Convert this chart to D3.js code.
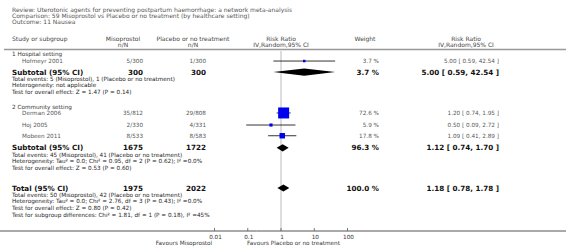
<!DOCTYPE html>
<html>
<head>
<meta charset="utf-8">
<title>Forest plot - Nausea</title>
<style>
    body { margin: 0; background: #fff; }
    svg text { font-family: "DejaVu Sans", sans-serif; fill: #333; }
    .small { font-size: 5.7px; }
    .head { font-size: 6px; fill: #444; }
    .bold { font-size: 7.2px; font-weight: bold; fill: #111; }
</style>
<script src="https://cdn.jsdelivr.net/npm/d3@7"></script>
</head>
<body>
<svg id="chart" width="566" height="248"></svg>
<script>
// ---- data ----
var titleLines = [
    "Review:  Uterotonic agents for preventing postpartum haemorrhage: a network meta-analysis",
    "Comparison:  59 Misoprostol vs Placebo or no treatment (by healthcare setting)",
    "Outcome:  11 Nausea"
];
var studyNames   = ["Hofmeyr 2001", "Derman 2006", "Hoj 2005", "Mobeen 2011"];
var misoEvents   = ["5/300", "35/812", "2/330", "8/533"];
var placEvents   = ["1/300", "29/808", "4/331", "8/583"];
var studyWeight  = [3.7, 72.6, 5.9, 17.8];
var studyRR      = [5.00, 1.20, 0.50, 1.09];
var studyLo      = [0.59, 0.74, 0.09, 0.41];
var studyHi      = [42.54, 1.95, 2.72, 2.89];

var groupNames   = ["1 Hospital setting", "2 Community setting"];
var subMiso      = ["300", "1675"];
var subPlac      = ["300", "1722"];
var subWeight    = [3.7, 96.3];
var subRR        = [5.00, 1.12];
var subLo        = [0.59, 0.74];
var subHi        = [42.54, 1.70];
var subNotes = [
    ["Total events: 5 (Misoprostol), 1 (Placebo or no treatment)",
     "Heterogeneity: not applicable",
     "Test for overall effect: Z = 1.47 (P = 0.14)"],
    ["Total events: 45 (Misoprostol), 41 (Placebo or no treatment)",
     "Heterogeneity: Tau\u00b2 = 0.0; Chi\u00b2 = 0.95, df = 2 (P = 0.62); I\u00b2 =0.0%",
     "Test for overall effect: Z = 0.53 (P = 0.60)"]
];

var totalMiso = "1975", totalPlac = "2022";
var totalWeight = 100.0, totalRR = 1.18, totalLo = 0.78, totalHi = 1.78;
var totalNotes = [
    "Total events: 50 (Misoprostol), 42 (Placebo or no treatment)",
    "Heterogeneity: Tau\u00b2 = 0.0; Chi\u00b2 = 2.76, df = 3 (P = 0.43); I\u00b2 =0.0%",
    "Test for overall effect: Z = 0.80 (P = 0.42)",
    "Test for subgroup differences: Chi\u00b2 = 1.81, df = 1 (P = 0.18), I\u00b2 =45%"
];

var tickValues = [0.01, 0.1, 1, 10, 100];
var favoursLeft = "Favours Misoprostol";
var favoursRight = "Favours Placebo or no treatment";

// ---- layout ----
var svg = d3.select("#chart");
var W = 566;
var col = { label: 12, study: 22, miso: 143, plac: 206, weight: 379, ci: 499, rrMid: 281, wMid: 365, ciMid: 466 };

var x = d3.scaleLog().domain([0.01, 100]).range([214.5, 347.5]);
// line slots -> pixel y (text centre)
var y = d3.scaleLinear().domain([0, 1]).range([54, 60.7]);
var boxSize = d3.scaleSqrt().domain([0, 72.6]).range([0, 11]);

function fmt(v) { return v.toFixed(2); }
function ciText(r, l, h) { return fmt(r) + " [ " + fmt(l) + ", " + fmt(h) + " ]"; }

function txt(cls, xx, yy, s, anchor) {
    return svg.append("text").attr("class", cls)
        .attr("x", xx).attr("y", yy)
        .attr("dominant-baseline", "central")
        .attr("text-anchor", anchor || "start")
        .text(s);
}

// title block
titleLines.forEach(function (t, i) {
    txt("head", col.label, 9.5 + i * 6.2, t).style("fill", "#555");
});

// column header
txt("head", col.label, 38, "Study or subgroup");
txt("head", 123, 38, "Misoprostol", "middle");
txt("head", 123, 44, "n/N", "middle");
txt("head", 193, 38, "Placebo or no treatment", "middle");
txt("head", 193, 44, "n/N", "middle");
txt("head", col.rrMid, 38, "Risk Ratio", "middle");
txt("head", col.rrMid, 44, "IV,Random,95% CI", "middle");
txt("head", col.wMid, 38, "Weight", "middle");
txt("head", col.ciMid, 38, "Risk Ratio", "middle");
txt("head", col.ciMid, 44, "IV,Random,95% CI", "middle");

svg.append("line").attr("x1", 4).attr("x2", W).attr("y1", 49.5).attr("y2", 49.5)
    .attr("stroke", "#999").attr("stroke-width", 1.6);

// null line
svg.append("line").attr("x1", x(1)).attr("x2", x(1)).attr("y1", 51).attr("y2", 231)
    .attr("stroke", "#ddd").attr("stroke-width", 2);

// slots for each block
var groupSlot = [0, 7.9];
var studySlot = [1.05, 8.8, 10.6, 12.2];
var subSlot = [2.7, 14];
var totalSlot = 20;

function diamond(yy, r, l, h) {
    var hh = 3.6;
    svg.append("path")
        .attr("d", "M" + x(l) + "," + yy + "L" + x(r) + "," + (yy - hh) +
                   "L" + x(h) + "," + yy + "L" + x(r) + "," + (yy + hh) + "Z")
        .attr("fill", "#000");
}

groupNames.forEach(function (g, gi) {
    txt("small", col.label, y(groupSlot[gi]), g);

    var sy = y(subSlot[gi]);
    txt("bold", col.label, sy, "Subtotal (95% CI)");
    txt("bold", col.miso, sy, subMiso[gi], "end");
    txt("bold", col.plac, sy, subPlac[gi], "end");
    txt("bold", col.weight, sy, subWeight[gi].toFixed(1) + " %", "end");
    txt("bold", col.ci, sy, ciText(subRR[gi], subLo[gi], subHi[gi]), "end");
    diamond(sy, subRR[gi], subLo[gi], subHi[gi]);

    subNotes[gi].forEach(function (n, ni) {
        txt("small", col.label, y(subSlot[gi] + 1 + ni), n).style("fill", "#222");
    });
});

studyNames.forEach(function (s, i) {
    var yy = y(studySlot[i]);
    txt("small", col.study, yy, s).style("fill", "#555");
    txt("small", col.miso, yy, misoEvents[i], "end").style("fill", "#555");
    txt("small", col.plac, yy, placEvents[i], "end").style("fill", "#555");
    txt("small", col.weight, yy, studyWeight[i].toFixed(1) + " %", "end").style("fill", "#555");
    txt("small", col.ci, yy, ciText(studyRR[i], studyLo[i], studyHi[i]), "end").style("fill", "#555");

    svg.append("line").attr("x1", x(studyLo[i])).attr("x2", x(studyHi[i]))
        .attr("y1", yy).attr("y2", yy).attr("stroke", "#000").attr("stroke-width", 0.8);
    var b = Math.max(boxSize(studyWeight[i]), 1.6);
    svg.append("rect").attr("x", x(studyRR[i]) - b / 2).attr("y", yy - b / 2)
        .attr("width", b).attr("height", b).attr("fill", "#0000ee");
});

// total
var ty = y(totalSlot);
txt("bold", col.label, ty, "Total (95% CI)");
txt("bold", col.miso, ty, totalMiso, "end");
txt("bold", col.plac, ty, totalPlac, "end");
txt("bold", col.weight, ty, totalWeight.toFixed(1) + " %", "end");
txt("bold", col.ci, ty, ciText(totalRR, totalLo, totalHi), "end");
diamond(ty, totalRR, totalLo, totalHi);
totalNotes.forEach(function (n, ni) {
    txt("small", col.label, y(totalSlot + 1 + ni), n).style("fill", "#222");
});

// axis
var axisY = 231;
svg.append("line").attr("x1", 0).attr("x2", W).attr("y1", axisY).attr("y2", axisY)
    .attr("stroke", "#555").attr("stroke-width", 1);
svg.selectAll(".tk").data(tickValues).enter().append("line")
    .attr("x1", function (d) { return x(d); }).attr("x2", function (d) { return x(d); })
    .attr("y1", axisY - 3).attr("y2", axisY).attr("stroke", "#555").attr("stroke-width", 0.8);
tickValues.forEach(function (d) {
    txt("small", x(d) + 1, axisY + 5.5, String(d), "middle");
});
txt("small", 184, axisY + 12, favoursLeft, "middle");
txt("small", 293.5, axisY + 12, favoursRight, "middle");
</script>
</body>
</html>
